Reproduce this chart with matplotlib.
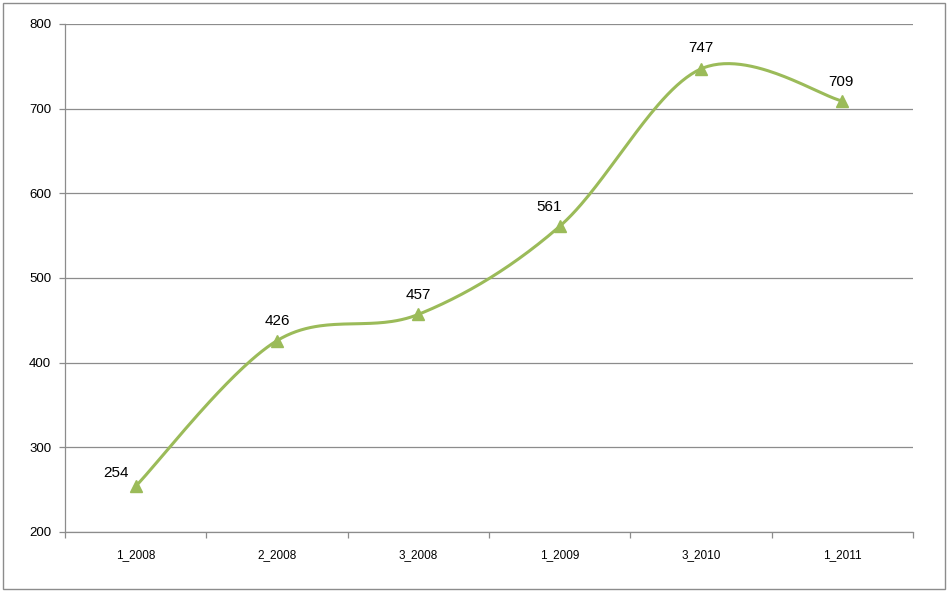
import numpy as np
import matplotlib
matplotlib.use("Agg")
import matplotlib.pyplot as plt
from matplotlib.patches import Rectangle

categories = ["1_2008", "2_2008", "3_2008", "1_2009", "3_2010", "1_2011"]
values = [254, 426, 457, 561, 747, 709]
y_ticks = [200, 300, 400, 500, 600, 700, 800]

# label offsets in pixels (dx, dy)
label_offsets = [(-20, 13), (0, 20), (0, 19), (-11, 19), (0, 21), (-1, 19)]

plt.rcParams['font.family'] = ['Liberation Sans', 'DejaVu Sans']

fig = plt.figure(figsize=(9.49, 5.92), dpi=100)
ax = fig.add_axes([65/949, 60/592, (913-65)/949, (532-24)/592])

# Catmull-Rom smoothing (Excel-like smooth line)
x = np.arange(len(values), dtype=float)
y = np.array(values, dtype=float)
xs, ys = [], []
n = len(x)
for i in range(n - 1):
    p0 = np.array([x[max(i-1, 0)], y[max(i-1, 0)]])
    p1 = np.array([x[i], y[i]])
    p2 = np.array([x[i+1], y[i+1]])
    p3 = np.array([x[min(i+2, n-1)], y[min(i+2, n-1)]])
    c1 = p1 + (p2 - p0) / 6.0
    c2 = p2 - (p3 - p1) / 6.0
    t = np.linspace(0, 1, 60)[:, None]
    pts = ((1-t)**3)*p1 + 3*((1-t)**2)*t*c1 + 3*(1-t)*(t**2)*c2 + (t**3)*p2
    xs.extend(pts[:, 0]); ys.extend(pts[:, 1])

green = "#9BBB59"
ax.plot(xs, ys, color=green, lw=2.2, solid_capstyle='round', zorder=3)
ax.plot(x, y, linestyle='none', marker='^', markersize=9, color=green, zorder=4)

for xi, yi, v, (dx, dy) in zip(x, y, values, label_offsets):
    ax.annotate(str(v), (xi, yi), xytext=(dx*0.72, dy*0.72), textcoords='offset points',
                ha='center', va='center', fontsize=11, color='black')

ax.set_xlim(-0.5, n - 0.5)
ax.set_ylim(200, 800)
ax.set_yticks(y_ticks)
ax.set_yticklabels([str(t) for t in y_ticks], fontsize=9.5)
ax.yaxis.grid(True, color='#8c8c8c', lw=0.9)
ax.set_axisbelow(True)

ax.set_xticks(x)
ax.set_xticklabels(categories, fontsize=8.5)
ax.tick_params(axis='x', which='major', length=0, pad=12)
ax.set_xticks(np.arange(-0.5, n, 1.0), minor=True)
ax.tick_params(axis='x', which='minor', length=4, color='#8c8c8c', width=0.9)
ax.tick_params(axis='y', length=4, color='#8c8c8c', width=0.9, pad=6)

for s in ['top', 'right']:
    ax.spines[s].set_visible(False)
for s in ['left', 'bottom']:
    ax.spines[s].set_color('#8c8c8c')
    ax.spines[s].set_linewidth(0.9)

fig.patches.append(Rectangle((3/949, 3/592), 942/949, 586/592, transform=fig.transFigure,
                             fill=False, edgecolor='#8c8c8c', lw=1.0))

fig.savefig("out.png", dpi=100)
